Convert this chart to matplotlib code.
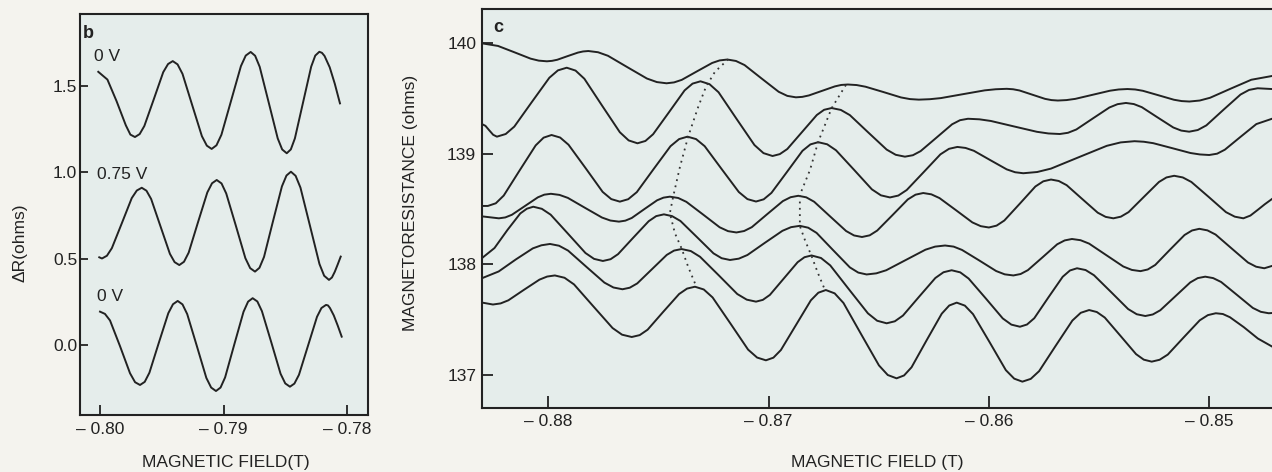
import matplotlib
matplotlib.use("Agg")
import matplotlib.pyplot as plt
from matplotlib.ticker import FixedLocator, FixedFormatter

plt.rcParams['font.family'] = ['Liberation Sans', 'DejaVu Sans']

# ---- panel b: delta R vs field, three gate voltages ----
b_labels = ['0 V', '0.75 V', '0 V']

b_field_top = [-0.80014, -0.79940, -0.79866, -0.79791, -0.79754, -0.79717,
               -0.79679, -0.79641, -0.79564, -0.79488, -0.79449, -0.79411,
               -0.79372, -0.79332, -0.79254, -0.79175, -0.79135, -0.79096,
               -0.79057, -0.79017, -0.78938, -0.78859, -0.78820, -0.78780,
               -0.78744, -0.78707, -0.78634, -0.78561, -0.78525, -0.78488,
               -0.78455, -0.78422, -0.78356, -0.78290, -0.78257, -0.78224,
               -0.78203, -0.78182, -0.78140, -0.78099, -0.78057]
b_dr_top = [1.583, 1.538, 1.413, 1.273, 1.219, 1.205,
            1.222, 1.269, 1.425, 1.581, 1.628, 1.645,
            1.626, 1.571, 1.391, 1.210, 1.155, 1.136,
            1.157, 1.218, 1.417, 1.616, 1.677, 1.698,
            1.676, 1.612, 1.405, 1.197, 1.133, 1.111,
            1.133, 1.197, 1.405, 1.613, 1.677, 1.699,
            1.693, 1.675, 1.609, 1.514, 1.400]

b_field_mid = [-0.80006, -0.79984, -0.79944, -0.79904, -0.79823, -0.79743, -0.79702, -0.79662,
               -0.79624, -0.79586, -0.79510, -0.79434, -0.79396, -0.79358,
               -0.79320, -0.79282, -0.79207, -0.79131, -0.79093, -0.79055,
               -0.79016, -0.78978, -0.78900, -0.78823, -0.78784, -0.78745,
               -0.78709, -0.78672, -0.78600, -0.78527, -0.78490, -0.78454,
               -0.78416, -0.78377, -0.78300, -0.78223, -0.78185, -0.78146,
               -0.78122, -0.78099, -0.78075, -0.78051]
b_dr_mid = [0.508, 0.501, 0.517, 0.561, 0.706, 0.851, 0.895, 0.911,
            0.894, 0.846, 0.687, 0.528, 0.480, 0.463,
            0.482, 0.535, 0.710, 0.884, 0.937, 0.956,
            0.936, 0.878, 0.691, 0.503, 0.445, 0.425,
            0.447, 0.510, 0.715, 0.919, 0.982, 1.004,
            0.980, 0.912, 0.691, 0.469, 0.401, 0.377,
            0.391, 0.424, 0.467, 0.512]

b_field_bot = [-0.80000, -0.79960, -0.79919, -0.79838, -0.79757, -0.79716, -0.79676,
               -0.79638, -0.79600, -0.79524, -0.79447, -0.79409, -0.79371,
               -0.79332, -0.79294, -0.79216, -0.79139, -0.79100, -0.79061,
               -0.79024, -0.78987, -0.78913, -0.78838, -0.78801, -0.78764,
               -0.78726, -0.78689, -0.78613, -0.78538, -0.78500, -0.78462,
               -0.78426, -0.78389, -0.78316, -0.78243, -0.78207, -0.78170,
               -0.78154, -0.78138, -0.78107, -0.78075, -0.78043]
b_dr_bot = [0.193, 0.180, 0.142, -0.007, -0.164, -0.216, -0.232,
            -0.214, -0.161, 0.012, 0.184, 0.236, 0.255,
            0.235, 0.179, -0.006, -0.191, -0.247, -0.267,
            -0.247, -0.188, 0.002, 0.192, 0.251, 0.271,
            0.252, 0.196, 0.015, -0.167, -0.223, -0.242,
            -0.224, -0.173, -0.005, 0.163, 0.214, 0.232,
            0.229, 0.214, 0.171, 0.112, 0.048]

b_xticks = [-0.80, -0.79, -0.78]
b_xticklabels = ['\u2013 0.80', '\u2013 0.79', '\u2013 0.78']
b_yticks = [0.0, 0.5, 1.0, 1.5]
b_yticklabels = ['0.0', '0.5', '1.0', '1.5']

# ---- panel c: magnetoresistance traces, top to bottom ----
c1_field = [-0.88302, -0.88228, -0.88154, -0.88080, -0.88043, -0.88006,
            -0.87983, -0.87959, -0.87912, -0.87865, -0.87842, -0.87818,
            -0.87774, -0.87729, -0.87641, -0.87552, -0.87507, -0.87463,
            -0.87429, -0.87394, -0.87325, -0.87256, -0.87222, -0.87187,
            -0.87148, -0.87109, -0.87032, -0.86954, -0.86915, -0.86876,
            -0.86847, -0.86817, -0.86758, -0.86699, -0.86670, -0.86640,
            -0.86600, -0.86560, -0.86479, -0.86399, -0.86358, -0.86318,
            -0.86268, -0.86218, -0.86119, -0.86019, -0.85969, -0.85919,
            -0.85890, -0.85861, -0.85803, -0.85745, -0.85716, -0.85687,
            -0.85648, -0.85608, -0.85529, -0.85450, -0.85411, -0.85371,
            -0.85336, -0.85301, -0.85231, -0.85160, -0.85125, -0.85090,
            -0.85043, -0.84996, -0.84903, -0.84809, -0.84715]
c1_res = [140.000, 139.976, 139.919, 139.861, 139.843, 139.837,
          139.841, 139.851, 139.884, 139.916, 139.926, 139.930,
          139.919, 139.887, 139.784, 139.681, 139.649, 139.638,
          139.646, 139.669, 139.746, 139.822, 139.845, 139.853,
          139.840, 139.803, 139.682, 139.561, 139.524, 139.511,
          139.515, 139.528, 139.569, 139.610, 139.623, 139.627,
          139.622, 139.607, 139.559, 139.510, 139.495, 139.490,
          139.494, 139.504, 139.539, 139.574, 139.584, 139.588,
          139.584, 139.573, 139.535, 139.497, 139.486, 139.482,
          139.486, 139.497, 139.534, 139.571, 139.582, 139.586,
          139.582, 139.570, 139.530, 139.489, 139.477, 139.473,
          139.482, 139.507, 139.589, 139.670, 139.704]

c2_field = [-0.88302, -0.88285, -0.88268, -0.88250, -0.88233,
            -0.88193, -0.88154, -0.88075, -0.87995, -0.87956, -0.87916,
            -0.87876, -0.87836, -0.87756, -0.87675, -0.87635, -0.87595,
            -0.87559, -0.87524, -0.87452, -0.87381, -0.87345, -0.87309,
            -0.87268, -0.87227, -0.87146, -0.87064, -0.87023, -0.86982,
            -0.86949, -0.86915, -0.86848, -0.86781, -0.86748, -0.86714,
            -0.86672, -0.86631, -0.86548, -0.86464, -0.86423, -0.86381,
            -0.86345, -0.86310, -0.86238, -0.86167, -0.86131, -0.86095,
            -0.86043, -0.85991, -0.85887, -0.85782, -0.85730, -0.85678,
            -0.85641, -0.85603, -0.85528, -0.85453, -0.85416, -0.85378,
            -0.85342, -0.85306, -0.85235, -0.85163, -0.85127, -0.85091,
            -0.85052, -0.85013, -0.84936, -0.84858, -0.84819, -0.84780,
            -0.84715]
c2_res = [139.270, 139.253, 139.213, 139.172, 139.155,
          139.179, 139.246, 139.467, 139.688, 139.755, 139.779,
          139.753, 139.679, 139.437, 139.195, 139.121, 139.095,
          139.116, 139.177, 139.376, 139.574, 139.635, 139.656,
          139.630, 139.557, 139.318, 139.079, 139.006, 138.980,
          138.997, 139.043, 139.197, 139.351, 139.398, 139.414,
          139.397, 139.350, 139.194, 139.038, 138.991, 138.974,
          138.987, 139.024, 139.146, 139.267, 139.304, 139.317,
          139.312, 139.297, 139.248, 139.199, 139.184, 139.179,
          139.190, 139.220, 139.320, 139.419, 139.449, 139.460,
          139.450, 139.422, 139.330, 139.238, 139.210, 139.200,
          139.215, 139.257, 139.397, 139.536, 139.578, 139.593,
          139.586]

c3_field = [-0.88302, -0.88274,
            -0.88238, -0.88202, -0.88130, -0.88057, -0.88021, -0.87985,
            -0.87946, -0.87908, -0.87830, -0.87753, -0.87714, -0.87675,
            -0.87637, -0.87598, -0.87522, -0.87445, -0.87406, -0.87368,
            -0.87329, -0.87290, -0.87213, -0.87135, -0.87096, -0.87057,
            -0.87022, -0.86987, -0.86916, -0.86846, -0.86810, -0.86775,
            -0.86734, -0.86694, -0.86612, -0.86531, -0.86490, -0.86449,
            -0.86411, -0.86373, -0.86296, -0.86220, -0.86181, -0.86143,
            -0.86106, -0.86068, -0.85994, -0.85919, -0.85881, -0.85844,
            -0.85781, -0.85718, -0.85592, -0.85465, -0.85402, -0.85339,
            -0.85297, -0.85254, -0.85170, -0.85085, -0.85042, -0.85000,
            -0.84964, -0.84929, -0.84858, -0.84786, -0.84715]
c3_res = [138.528, 138.528,
          138.552, 138.622, 138.849, 139.076, 139.146, 139.170,
          139.147, 139.082, 138.869, 138.655, 138.590, 138.567,
          138.589, 138.653, 138.861, 139.069, 139.133, 139.155,
          139.133, 139.069, 138.862, 138.654, 138.590, 138.568,
          138.588, 138.646, 138.837, 139.027, 139.085, 139.105,
          139.086, 139.032, 138.855, 138.678, 138.624, 138.605,
          138.622, 138.672, 138.834, 138.995, 139.045, 139.062,
          139.053, 139.027, 138.943, 138.859, 138.833, 138.824,
          138.835, 138.866, 138.969, 139.072, 139.103, 139.114,
          139.109, 139.096, 139.052, 139.007, 138.994, 138.989,
          139.001, 139.037, 139.153, 139.269, 139.317]

c4_field = [-0.88302, -0.88224,
            -0.88195, -0.88165, -0.88106, -0.88047, -0.88018, -0.87988,
            -0.87949, -0.87911, -0.87834, -0.87756, -0.87718, -0.87679,
            -0.87650, -0.87621, -0.87564, -0.87506, -0.87477, -0.87448,
            -0.87410, -0.87373, -0.87297, -0.87222, -0.87184, -0.87146,
            -0.87111, -0.87076, -0.87006, -0.86935, -0.86900, -0.86865,
            -0.86829, -0.86793, -0.86721, -0.86648, -0.86612, -0.86576,
            -0.86541, -0.86507, -0.86437, -0.86368, -0.86333, -0.86298,
            -0.86261, -0.86224, -0.86149, -0.86075, -0.86037, -0.86000,
            -0.85965, -0.85930, -0.85859, -0.85789, -0.85753, -0.85718,
            -0.85683, -0.85647, -0.85577, -0.85506, -0.85470, -0.85435,
            -0.85401, -0.85366, -0.85297, -0.85228, -0.85194, -0.85159,
            -0.85120, -0.85081, -0.85002, -0.84924, -0.84884, -0.84845,
            -0.84813, -0.84780, -0.84748, -0.84715]
c4_res = [138.434, 138.416,
          138.424, 138.448, 138.527, 138.606, 138.630, 138.638,
          138.628, 138.601, 138.512, 138.423, 138.396, 138.386,
          138.395, 138.419, 138.499, 138.579, 138.603, 138.612,
          138.600, 138.565, 138.450, 138.335, 138.300, 138.288,
          138.301, 138.336, 138.454, 138.572, 138.607, 138.620,
          138.606, 138.566, 138.434, 138.301, 138.261, 138.247,
          138.262, 138.305, 138.446, 138.587, 138.630, 138.645,
          138.633, 138.599, 138.489, 138.379, 138.345, 138.333,
          138.350, 138.396, 138.550, 138.704, 138.751, 138.767,
          138.754, 138.716, 138.592, 138.467, 138.429, 138.416,
          138.431, 138.472, 138.609, 138.745, 138.786, 138.801,
          138.786, 138.745, 138.609, 138.472, 138.431, 138.416,
          138.441, 138.492, 138.543, 138.591]

c5_field = [-0.88302, -0.88244, -0.88185, -0.88127, -0.88097, -0.88068,
            -0.88029, -0.87989, -0.87910, -0.87831, -0.87792, -0.87752,
            -0.87717, -0.87683, -0.87614, -0.87544, -0.87510, -0.87475,
            -0.87438, -0.87400, -0.87325, -0.87250, -0.87213, -0.87175,
            -0.87135, -0.87096, -0.87017, -0.86937, -0.86898, -0.86858,
            -0.86820, -0.86782, -0.86707, -0.86631, -0.86593, -0.86555,
            -0.86511, -0.86466, -0.86377, -0.86288, -0.86244, -0.86199,
            -0.86160, -0.86122, -0.86044, -0.85967, -0.85928, -0.85889,
            -0.85856, -0.85823, -0.85756, -0.85690, -0.85656, -0.85623,
            -0.85584, -0.85545, -0.85468, -0.85390, -0.85351, -0.85312,
            -0.85279, -0.85245, -0.85179, -0.85112, -0.85078, -0.85045,
            -0.85008, -0.84971, -0.84898, -0.84824, -0.84787, -0.84750,
            -0.84715]
c5_res = [138.054, 138.147, 138.311, 138.460, 138.503, 138.521,
          138.502, 138.449, 138.276, 138.102, 138.049, 138.030,
          138.046, 138.092, 138.241, 138.390, 138.436, 138.452,
          138.436, 138.392, 138.246, 138.099, 138.055, 138.039,
          138.051, 138.084, 138.194, 138.303, 138.336, 138.348,
          138.331, 138.284, 138.128, 137.972, 137.925, 137.908,
          137.918, 137.946, 138.039, 138.132, 138.160, 138.170,
          138.160, 138.130, 138.035, 137.939, 137.909, 137.899,
          137.912, 137.947, 138.064, 138.181, 138.216, 138.229,
          138.218, 138.187, 138.084, 137.980, 137.949, 137.938,
          137.953, 137.994, 138.130, 138.265, 138.306, 138.321,
          138.307, 138.269, 138.143, 138.016, 137.978, 137.964,
          137.985]

c6_field = [-0.88302, -0.88225, -0.88147, -0.88070, -0.88031, -0.87992,
            -0.87951, -0.87910, -0.87828, -0.87745, -0.87704, -0.87663,
            -0.87630, -0.87596, -0.87529, -0.87462, -0.87429, -0.87395,
            -0.87353, -0.87311, -0.87226, -0.87142, -0.87099, -0.87057,
            -0.87026, -0.86994, -0.86931, -0.86868, -0.86837, -0.86805,
            -0.86762, -0.86720, -0.86635, -0.86549, -0.86507, -0.86464,
            -0.86427, -0.86390, -0.86317, -0.86243, -0.86206, -0.86169,
            -0.86130, -0.86092, -0.86014, -0.85937, -0.85898, -0.85859,
            -0.85827, -0.85794, -0.85730, -0.85665, -0.85632, -0.85600,
            -0.85561, -0.85523, -0.85445, -0.85368, -0.85329, -0.85290,
            -0.85256, -0.85222, -0.85154, -0.85086, -0.85052, -0.85018,
            -0.84982, -0.84946, -0.84874, -0.84802, -0.84766, -0.84730,
            -0.84715]
c6_res = [137.873, 137.935, 138.044, 138.144, 138.172, 138.184,
          138.168, 138.124, 137.979, 137.834, 137.790, 137.774,
          137.788, 137.827, 137.956, 138.085, 138.124, 138.138,
          138.120, 138.068, 137.900, 137.731, 137.680, 137.662,
          137.678, 137.723, 137.871, 138.019, 138.064, 138.080,
          138.057, 137.990, 137.773, 137.556, 137.489, 137.466,
          137.484, 137.536, 137.706, 137.876, 137.928, 137.946,
          137.927, 137.871, 137.691, 137.510, 137.454, 137.435,
          137.455, 137.512, 137.700, 137.887, 137.944, 137.964,
          137.948, 137.901, 137.748, 137.595, 137.548, 137.532,
          137.546, 137.584, 137.710, 137.836, 137.875, 137.888,
          137.875, 137.840, 137.723, 137.605, 137.570, 137.557,
          137.559]

c7_field = [-0.88302, -0.88251,
            -0.88216, -0.88181, -0.88111, -0.88040, -0.88005, -0.87970,
            -0.87926, -0.87883, -0.87796, -0.87708, -0.87665, -0.87621,
            -0.87585, -0.87549, -0.87478, -0.87406, -0.87370, -0.87334,
            -0.87294, -0.87254, -0.87173, -0.87093, -0.87052, -0.87012,
            -0.86978, -0.86944, -0.86876, -0.86808, -0.86774, -0.86740,
            -0.86700, -0.86660, -0.86580, -0.86499, -0.86459, -0.86419,
            -0.86385, -0.86351, -0.86283, -0.86214, -0.86180, -0.86146,
            -0.86109, -0.86072, -0.85997, -0.85923, -0.85885, -0.85848,
            -0.85810, -0.85772, -0.85697, -0.85621, -0.85583, -0.85545,
            -0.85510, -0.85474, -0.85403, -0.85332, -0.85297, -0.85261,
            -0.85225, -0.85188, -0.85116, -0.85043, -0.85006, -0.84970,
            -0.84938, -0.84906, -0.84843, -0.84779, -0.84715]
c7_res = [137.654, 137.636,
          137.646, 137.674, 137.768, 137.861, 137.889, 137.899,
          137.878, 137.818, 137.621, 137.423, 137.363, 137.342,
          137.359, 137.408, 137.570, 137.731, 137.780, 137.797,
          137.772, 137.700, 137.464, 137.228, 137.156, 137.131,
          137.155, 137.224, 137.449, 137.674, 137.743, 137.767,
          137.737, 137.650, 137.368, 137.085, 136.998, 136.968,
          136.994, 137.068, 137.311, 137.553, 137.627, 137.653,
          137.626, 137.549, 137.296, 137.042, 136.965, 136.938,
          136.963, 137.033, 137.262, 137.491, 137.561, 137.586,
          137.568, 137.518, 137.353, 137.187, 137.137, 137.119,
          137.136, 137.183, 137.338, 137.493, 137.540, 137.557,
          137.550, 137.521, 137.431, 137.328, 137.256]

# dotted guides through the shifting peaks
peak1_field = [-0.87183, -0.87243, -0.87284, -0.87319, -0.87365, -0.87402, -0.87433, -0.87448,
               -0.87425, -0.87395, -0.87365, -0.87334]
peak1_res = [139.855, 139.743, 139.607, 139.426, 139.155, 138.883, 138.612, 138.462, 138.281,
             138.145, 137.978, 137.828]
peak2_field = [-0.86649, -0.86714, -0.86744, -0.86775, -0.86812, -0.86858, -0.86858, -0.86835,
               -0.86805, -0.86776, -0.86744]
peak2_res = [139.623, 139.412, 139.261, 139.107, 138.853, 138.627, 138.347, 138.220, 138.075,
             137.921, 137.767]

c_xticks = [-0.88, -0.87, -0.86, -0.85]
c_xticklabels = ['\u2013 0.88', '\u2013 0.87', '\u2013 0.86', '\u2013 0.85']
c_yticks = [137, 138, 139, 140]
c_yticklabels = ['137', '138', '139', '140']

# ---- styling ----
W, H = 1272, 472
fig_bg = '#f4f3ee'
ax_bg = '#e5edeb'
ink = '#222222'
fs = 12.5

fig = plt.figure(figsize=(W / 100, H / 100), dpi=100, facecolor=fig_bg)


def style_axes(ax):
    ax.set_facecolor(ax_bg)
    for s in ax.spines.values():
        s.set_color(ink)
        s.set_linewidth(1.5)
    ax.tick_params(direction='in', color=ink, width=1.3, labelcolor=ink, labelsize=fs)


# panel b
axb = fig.add_axes([80 / W, 1 - 415 / H, 288 / W, 401 / H])
style_axes(axb)
for fld, dr in [(b_field_top, b_dr_top), (b_field_mid, b_dr_mid), (b_field_bot, b_dr_bot)]:
    axb.plot(fld, dr, color=ink, lw=1.4, solid_joinstyle='round')
axb.set_xlim(-0.80162, -0.77830)
axb.set_ylim(-0.406, 1.918)
axb.xaxis.set_major_locator(FixedLocator(b_xticks))
axb.xaxis.set_major_formatter(FixedFormatter(b_xticklabels))
axb.yaxis.set_major_locator(FixedLocator(b_yticks))
axb.yaxis.set_major_formatter(FixedFormatter(b_yticklabels))
axb.tick_params(axis='x', length=7, pad=5)
axb.tick_params(axis='y', length=6, pad=2)
axb.text(-0.80049, 1.674, b_labels[0], fontsize=fs, color=ink, va='center')
axb.text(-0.80024, 0.985, b_labels[1], fontsize=fs, color=ink, va='center')
axb.text(-0.80024, 0.281, b_labels[2], fontsize=fs, color=ink, va='center')
fig.text(83 / W, 1 - 33 / H, 'b', fontsize=13, fontweight='bold', color=ink, va='center')
fig.text(226 / W, 1 - 462 / H, 'MAGNETIC FIELD(T)', fontsize=fs, color=ink,
         ha='center', va='center')
fig.text(20 / W, 1 - 243 / H, '\u0394R(ohms)', fontsize=fs, color=ink,
         ha='center', va='center', rotation=90)

# panel c
axc = fig.add_axes([481.7 / W, 1 - 407.5 / H, (W - 481.7) / W, 398.8 / H])
style_axes(axc)
axc.spines['right'].set_visible(False)
for fld, res in [(c1_field, c1_res), (c2_field, c2_res), (c3_field, c3_res), (c4_field, c4_res),
                 (c5_field, c5_res), (c6_field, c6_res), (c7_field, c7_res)]:
    axc.plot(fld, res, color=ink, lw=1.4, solid_joinstyle='round')
for fld, res in [(peak1_field, peak1_res), (peak2_field, peak2_res)]:
    axc.plot(fld, res, color='#333333', lw=1.3, linestyle=(0, (1, 2.5)))
axc.set_xlim(-0.88302, -0.84715)
axc.set_ylim(136.704, 140.313)
axc.xaxis.set_major_locator(FixedLocator(c_xticks))
axc.xaxis.set_major_formatter(FixedFormatter(c_xticklabels))
axc.yaxis.set_major_locator(FixedLocator(c_yticks))
axc.yaxis.set_major_formatter(FixedFormatter(c_yticklabels))
axc.tick_params(axis='x', length=9, pad=5)
axc.tick_params(axis='y', length=8, pad=4)
fig.text(493 / W, 1 - 28 / H, 'c', fontsize=13, fontweight='bold', color=ink, va='center')
fig.text(877 / W, 1 - 462 / H, 'MAGNETIC FIELD (T)', fontsize=fs, color=ink,
         ha='center', va='center')
fig.text(411 / W, 1 - 203 / H, 'MAGNETORESISTANCE (ohms)', fontsize=fs, color=ink,
         ha='center', va='center', rotation=90)

fig.savefig('out.png', dpi=100, facecolor=fig_bg)
